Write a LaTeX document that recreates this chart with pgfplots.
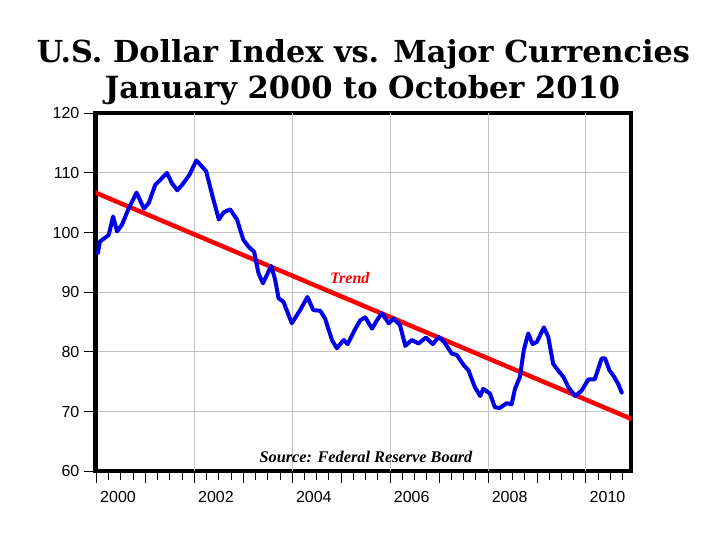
\documentclass[border=0pt]{standalone}
\usepackage{fontspec}
\setmainfont{Liberation Sans}
\newfontfamily\titlefont{Liberation Serif}
\newfontfamily\headfont{DejaVu Serif}
\usepackage{pgfplots}
\pgfplotsset{compat=1.18}
\definecolor{lineblue}{RGB}{0,0,232}
\definecolor{trendred}{RGB}{250,0,0}
\definecolor{gridgray}{RGB}{195,195,195}
\begin{document}
\begin{tikzpicture}
\path[use as bounding box] (0,0) rectangle (725bp,537bp);
\node[anchor=base, inner sep=0pt] at (363.5bp,474.3bp) {\resizebox{653bp}{!}{\headfont\bfseries\fontsize{30bp}{36bp}\selectfont U.S. Dollar Index vs. Major Currencies}};
\node[anchor=base, inner sep=0pt] at (362.5bp,438.5bp) {\resizebox{515bp}{!}{\headfont\bfseries\fontsize{30bp}{36bp}\selectfont January 2000 to October 2010}};
\begin{axis}[
  at={(95.5bp,65.8bp)}, anchor=south west,
  width=535.5bp, height=357.9bp, scale only axis,
  xmin=1999.98, xmax=2010.92, ymin=60, ymax=120,
  axis line style={line width=4.3bp, black},
  tick align=outside,
  xtick={2000,2001,...,2010}, xticklabels={},
  minor xtick={2000.25,2000.5,2000.75,2001.25,2001.5,2001.75,2002.25,2002.5,2002.75,2003.25,2003.5,2003.75,2004.25,2004.5,2004.75,2005.25,2005.5,2005.75,2006.25,2006.5,2006.75,2007.25,2007.5,2007.75,2008.25,2008.5,2008.75,2009.25,2009.5,2009.75,2010.25,2010.5,2010.75},
  extra x ticks={2000.44,2002.44,2004.44,2006.44,2008.44,2010.44},
  extra x tick labels={2000,2002,2004,2006,2008,2010},
  extra x tick style={major tick length=12bp, tick style={draw=none}, grid=none},
  major tick length=12bp, minor tick length=9bp,
  tick style={black, line width=1bp},
  ytick={60,70,...,120},
  ymajorgrids, grid style={gridgray, line width=1bp},
  xtick pos=bottom, ytick pos=left,
  yticklabel style={font=\fontsize{16bp}{18bp}\selectfont, inner sep=0pt, xshift=-4bp},
  xticklabel style={font=\fontsize{16bp}{18bp}\selectfont, inner sep=0pt, yshift=-8bp},
  /pgf/number format/assume math mode=true,
  /pgf/number format/1000 sep={},
  clip=true,
]
\pgfplotsinvokeforeach{2002,2004,2006,2008,2010}{
  \draw[gridgray, line width=1bp] (axis cs:#1,60) -- (axis cs:#1,120);
}
\addplot[trendred, line width=4.5bp] coordinates {(1999.9,106.97) (2011.0,68.52)};
\addplot[lineblue, line width=4bp, line join=round, line cap=round] coordinates {
(2000.03,96.6) (2000.07,98.5) (2000.25,99.6) (2000.34,102.7) (2000.42,100.2)
(2000.52,101.3) (2000.66,104.1) (2000.82,106.7) (2000.97,104.0) (2001.07,105.0)
(2001.20,108.0) (2001.31,108.9) (2001.44,110.0) (2001.54,108.3) (2001.65,107.1)
(2001.75,108.0) (2001.90,109.7) (2002.04,112.1) (2002.24,110.3) (2002.38,105.8)
(2002.50,102.2) (2002.60,103.4) (2002.73,103.9) (2002.87,102.2) (2003.00,98.8)
(2003.11,97.6) (2003.22,96.8) (2003.31,93.2) (2003.40,91.5) (2003.57,94.4)
(2003.65,92.1) (2003.72,89.0) (2003.82,88.4) (2003.99,84.8) (2004.16,87.0)
(2004.31,89.2) (2004.43,87.0) (2004.57,86.9) (2004.67,85.6) (2004.81,82.0)
(2004.91,80.6) (2005.05,82.0) (2005.13,81.3) (2005.29,83.9) (2005.39,85.3)
(2005.49,85.8) (2005.63,83.9) (2005.73,85.3) (2005.83,86.5) (2005.97,84.8)
(2006.07,85.6) (2006.20,84.5) (2006.31,81.0) (2006.44,82.0) (2006.58,81.4)
(2006.73,82.4) (2006.87,81.3) (2006.99,82.5) (2007.10,81.7) (2007.26,79.7)
(2007.36,79.5) (2007.50,77.8) (2007.60,76.9) (2007.73,74.1) (2007.84,72.6)
(2007.90,73.8) (2008.04,73.0) (2008.14,70.7) (2008.24,70.6) (2008.38,71.4)
(2008.48,71.2) (2008.55,73.8) (2008.65,75.8) (2008.73,80.3) (2008.82,83.1)
(2008.91,81.3) (2009.00,81.7) (2009.14,84.1) (2009.23,82.5) (2009.33,78.0)
(2009.43,76.9) (2009.54,75.8) (2009.64,74.1) (2009.78,72.6) (2009.91,73.5)
(2010.05,75.4) (2010.18,75.4) (2010.32,78.9) (2010.39,78.9) (2010.48,76.9)
(2010.57,75.9) (2010.66,74.6) (2010.73,73.2)
};
\end{axis}
\node[anchor=base, inner sep=0pt, text=trendred] at (349.7bp,253bp) {\titlefont\bfseries\itshape\fontsize{16bp}{18bp}\selectfont Trend};
\node[anchor=base, inner sep=0pt] at (366bp,74bp) {\titlefont\bfseries\itshape\fontsize{16.3bp}{18bp}\selectfont Source: Federal Reserve Board};
\end{tikzpicture}
\end{document}
